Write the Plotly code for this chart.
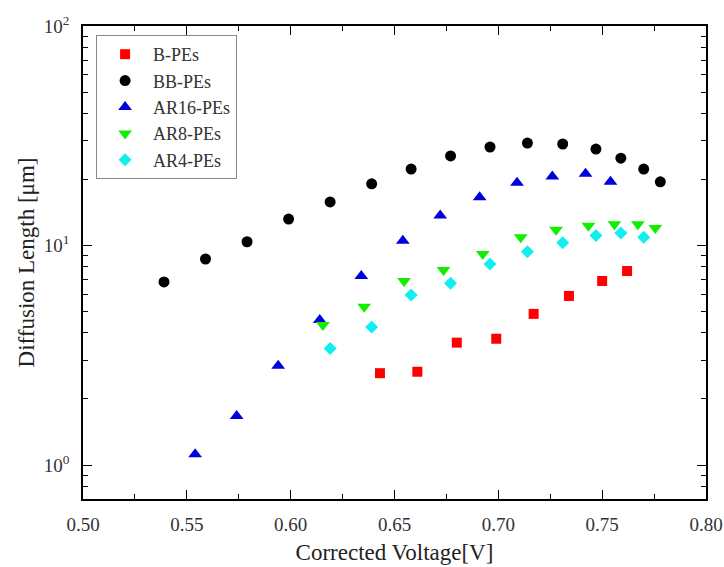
import plotly.graph_objects as go

# ---- data ----
b_x = [0.643, 0.661, 0.680, 0.699, 0.717, 0.734, 0.750, 0.762]
b_y = [2.62, 2.66, 3.61, 3.76, 4.88, 5.89, 6.89, 7.65]

bb_x = [0.539, 0.559, 0.579, 0.599, 0.619, 0.639, 0.658, 0.677, 0.696, 0.714, 0.731, 0.747, 0.759, 0.770, 0.778]
bb_y = [6.82, 8.68, 10.4, 13.2, 15.8, 19.1, 22.3, 25.6, 28.1, 29.3, 29.0, 27.5, 25.0, 22.3, 19.5]

ar16_x = [0.554, 0.574, 0.594, 0.614, 0.634, 0.654, 0.672, 0.691, 0.709, 0.726, 0.742, 0.754]
ar16_y = [1.12, 1.67, 2.83, 4.58, 7.26, 10.5, 13.7, 16.6, 19.3, 20.6, 21.2, 19.5]

ar8_x = [0.6155, 0.6354, 0.6546, 0.6736, 0.6925, 0.7108, 0.7278, 0.7434, 0.7559, 0.7672, 0.7756]
ar8_y = [4.34, 5.26, 6.89, 7.73, 9.15, 10.9, 11.8, 12.3, 12.5, 12.5, 12.0]

ar4_x = [0.619, 0.639, 0.658, 0.677, 0.696, 0.714, 0.731, 0.747, 0.759, 0.770]
ar4_y = [3.39, 4.25, 5.95, 6.73, 8.24, 9.37, 10.3, 11.1, 11.4, 10.9]

y_tickvals = [1, 10, 100]
y_ticktext = ["10<sup>0</sup>", "10<sup>1</sup>", "10<sup>2</sup>"]

FONT = "Liberation Serif"

series = [
    ("B-PEs", b_x, b_y, "square", "#ff0000", 10),
    ("BB-PEs", bb_x, bb_y, "circle", "#000000", 11),
    ("AR16-PEs", ar16_x, ar16_y, "triangle-up", "#0000dd", 12),
    ("AR8-PEs", ar8_x, ar8_y, "triangle-down", "#11ee00", 12),
    ("AR4-PEs", ar4_x, ar4_y, "diamond", "#11eeee", 10),
]

fig = go.Figure()
for name, xs, ys, sym, col, sz in series:
    fig.add_trace(go.Scatter(
        x=xs, y=ys, mode="markers", name=name,
        marker=dict(symbol=sym, color=col, size=sz, line=dict(width=0)),
    ))

axis_common = dict(
    showline=True, linecolor="black", linewidth=1.6, mirror="ticks",
    ticks="inside", ticklen=9, tickwidth=1.4, tickcolor="black",
    showgrid=False, zeroline=False, automargin=False,
    tickfont=dict(family=FONT, size=19, color="#333333"),
)

fig.update_xaxes(
    range=[0.5, 0.8], dtick=0.05, tick0=0.5, tickformat=".2f",
    minor=dict(ticks="inside", ticklen=5, tickwidth=1.2, tickcolor="black", dtick=0.025, showgrid=False),
    title=dict(text="Corrected Voltage[V]", font=dict(family=FONT, size=23, color="#222222"), standoff=10),
    ticklabelstandoff=7,
    **axis_common,
)
fig.update_yaxes(
    type="log", range=[-0.1549, 2],
    tickvals=y_tickvals, ticktext=y_ticktext,
    minor=dict(ticks="inside", ticklen=5, tickwidth=1.2, tickcolor="black", dtick="D1", showgrid=False),
    title=dict(text="Diffusion Length [μm]", font=dict(family=FONT, size=23, color="#222222"), standoff=3),
    ticklabelstandoff=8,
    **axis_common,
)

fig.update_layout(
    width=724, height=567,
    margin=dict(l=83, r=18, t=26, b=68),
    plot_bgcolor="white", paper_bgcolor="white",
    legend=dict(
        x=0.021, y=0.981, xanchor="left", yanchor="top",
        bordercolor="#888888", borderwidth=1, bgcolor="white",
        font=dict(family=FONT, size=18, color="#333333"),
        itemwidth=46, tracegroupgap=0,
    ),
)

fig.write_html(
    "out.html",
    config={"displayModeBar": False},
    post_script="document.body.style.margin='0px';document.body.style.overflow='hidden';",
)
